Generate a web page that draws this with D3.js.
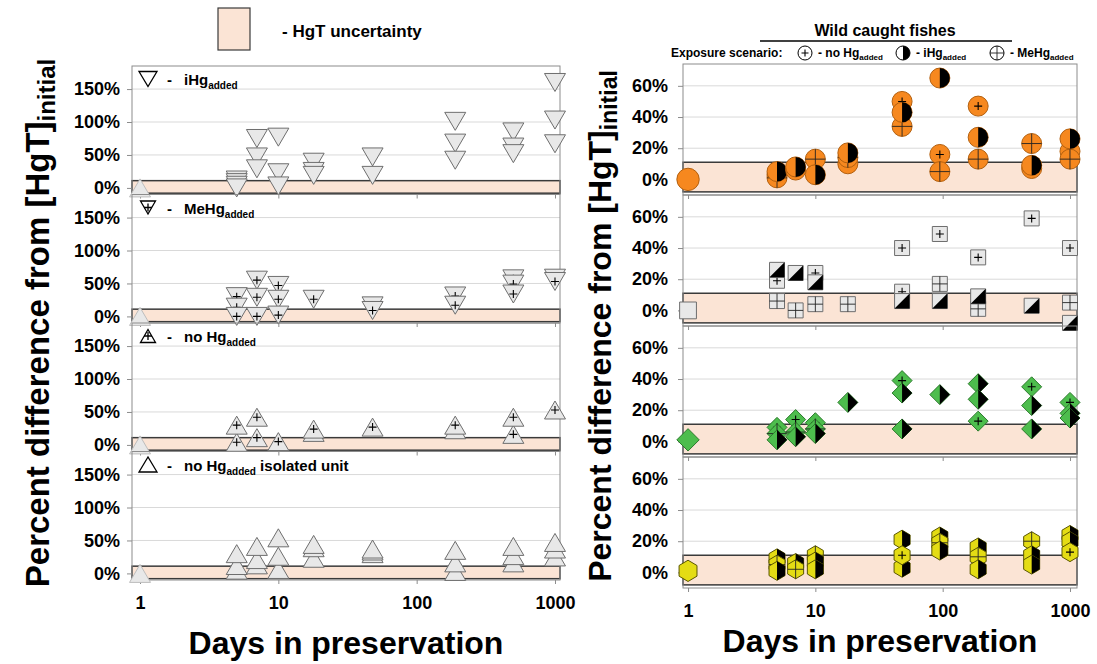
<!DOCTYPE html>
<html>
<head>
<meta charset="utf-8">
<script src="https://cdn.jsdelivr.net/npm/d3@7"></script>
<style>
  body { margin: 0; background: #fff; }
  svg text { font-family: Arial, "Liberation Sans", sans-serif; font-weight: bold; fill: #000; }
</style>
</head>
<body>
<svg id="chart" width="1097" height="664"></svg>
<script>
// ---- data ----
const dayTicks = [1, 10, 100, 1000]
const leftPctTicks = [0, 50, 100, 150]
const rightPctTicks = [0, 20, 40, 60]
const uncertainty = [-8, 11]

// left side: [day, % difference]
const startPoint = [[1, 0]]
const iHgAdded = [[5,12],[5,8],[5,4],[5,0],[7,75],[7,47],[7,29],[10,77],[10,23],[10,3],[18,39],[18,25],[18,19],[48,47],[48,19],[190,101],[190,68],[190,42],[500,85],[500,62],[500,52],[1000,160],[1000,103],[1000,67]]
const meHgAdded = [[5,30],[5,14],[5,0],[7,55],[7,29],[7,0],[10,47],[10,26],[10,2],[18,26],[48,16],[48,9],[190,31],[190,17],[500,57],[500,49],[500,34],[1000,58],[1000,53]]
const noHgAdded = [[5,30],[5,4],[7,42],[7,11],[10,5],[18,24],[18,19],[48,27],[190,30],[190,23],[500,42],[500,16],[1000,53]]
const isolatedUnit = [[5,30],[5,12],[5,5],[7,41],[7,21],[7,13],[10,54],[10,26],[10,6],[18,44],[18,39],[18,23],[48,37],[48,34],[48,30],[190,35],[190,16],[190,3],[500,41],[500,27],[500,16],[1000,47],[1000,37],[1000,25]]

// right side: [day, % difference, exposure scenario]
const orangeFish = [[1,0,"ref"],[5,3,"no"],[5,1,"me"],[5,5,"i"],[7,6,"no"],[7,8,"i"],[10,13,"me"],[10,3,"i"],[18,10,"no"],[18,14,"me"],[18,17,"i"],[48,50,"no"],[48,34,"me"],[48,43,"i"],[95,65,"i"],[95,16,"no"],[95,5,"me"],[190,47,"no"],[190,27,"i"],[190,13,"me"],[500,23,"me"],[500,7,"no"],[500,9,"i"],[1000,18,"no"],[1000,13,"me"],[1000,26,"i"]]
const greyFish = [[1,0,"ref"],[5,19,"no"],[5,26,"i"],[5,6,"me"],[7,24,"i"],[7,0,"me"],[10,24,"no"],[10,18,"i"],[10,4,"me"],[18,4,"me"],[48,40,"no"],[48,12,"no"],[48,6,"i"],[95,49,"no"],[95,17,"me"],[95,6,"i"],[190,34,"no"],[190,1,"me"],[190,9,"i"],[500,59,"no"],[500,3,"i"],[1000,40,"no"],[1000,5,"me"],[1000,-8,"i"]]
const greenFish = [[1,1,"ref"],[5,9,"no"],[5,5,"me"],[5,1,"i"],[7,14,"no"],[7,6,"me"],[7,3,"i"],[10,12,"no"],[10,8,"me"],[10,5,"i"],[18,25,"i"],[48,39,"no"],[48,31,"i"],[48,8,"i"],[95,30,"i"],[190,13,"no"],[190,37,"i"],[190,27,"i"],[500,35,"no"],[500,23,"i"],[500,8,"i"],[1000,25,"no"],[1000,18,"i"],[1000,15,"i"]]
const yellowFish = [[1,1,"ref"],[5,9,"i"],[5,5,"me"],[5,1,"i"],[7,6,"i"],[7,2,"me"],[10,11,"me"],[10,7,"i"],[10,2,"i"],[48,21,"i"],[48,3,"i"],[48,11,"no"],[95,23,"i"],[95,19,"me"],[95,14,"i"],[190,16,"i"],[190,10,"me"],[190,2,"i"],[500,20,"me"],[500,11,"i"],[500,5,"i"],[1000,24,"i"],[1000,20,"i"],[1000,13,"no"]]

// ---- drawing ----
const svg = d3.select("#chart")
const bandFill = "#fbe4d5"
const gridCol = "#d9d9d9"
const frameCol = "#8c8c8c"

function shapePath(shape, w, h) {
    const a = w / 2, b = h / 2
    if (shape == "circle") return `M${-a},0A${a},${a} 0 1 0 ${a},0A${a},${a} 0 1 0 ${-a},0Z`
    if (shape == "square") return `M${-a},${-b}H${a}V${b}H${-a}Z`
    if (shape == "diamond") return `M0,${-b}L${a},0L0,${b}L${-a},0Z`
    if (shape == "hexagon") return `M0,${-b}L${a},${-b/2}L${a},${b/2}L0,${b}L${-a},${b/2}L${-a},${-b/2}Z`
    if (shape == "triUp") return `M${-a},${b}L${a},${b}L0,${-b}Z`
    if (shape == "triDown") return `M${-a},${-b}L${a},${-b}L0,${b}Z`
}

function halfPath(shape, w, h) {
    const a = w / 2, b = h / 2
    if (shape == "circle") return `M0,${-a}A${a},${a} 0 0 1 0,${a}Z`
    if (shape == "square") return `M${a},${-b}L${a},${b}L${-a},${b}Z`
    if (shape == "diamond") return `M0,${-b}L${a},0L0,${b}Z`
    if (shape == "hexagon") return `M0,${-b}L${a},${-b/2}L${a},${b/2}L0,${b}Z`
}

function drawMarker(g, shape, kind, cx, cy, w, h, fill, stroke) {
    const m = g.append("g").attr("transform", `translate(${cx},${cy})`)
    m.append("path").attr("d", shapePath(shape, w, h))
        .attr("fill", fill).attr("stroke", stroke).attr("stroke-width", 1)
    if (kind == "i") {
        m.append("path").attr("d", halfPath(shape, w, h)).attr("fill", "#000")
    }
    if (kind == "me") {
        m.append("path").attr("d", `M${-w/2},0H${w/2}M0,${-h/2}V${h/2}`)
            .attr("stroke", "#222").attr("stroke-width", 0.9)
    }
    if (kind == "no" || kind == "plus") {
        m.append("path").attr("d", "M-4,0H4M0,-4V4")
            .attr("stroke", "#000").attr("stroke-width", 1.1)
    }
}

function panelFrame(g, x, y, x0, x1, h, pctTicks, showLabels, padY) {
    // grid
    g.selectAll(".grid").data(pctTicks).join("line")
        .attr("x1", x0).attr("x2", x1)
        .attr("y1", d => y(d)).attr("y2", d => y(d))
        .attr("stroke", gridCol)
    // uncertainty band
    g.append("rect")
        .attr("x", x0).attr("width", x1 - x0)
        .attr("y", y(uncertainty[1])).attr("height", y(uncertainty[0]) - y(uncertainty[1]))
        .attr("fill", bandFill).attr("stroke", "#3a3a3a").attr("stroke-width", 1.5)
    // frame
    g.append("rect").attr("x", x0).attr("y", 0).attr("width", x1 - x0).attr("height", h)
        .attr("fill", "none").attr("stroke", frameCol)
    // axes
    const ya = g.append("g").attr("transform", `translate(${x0},0)`)
        .call(d3.axisLeft(y).tickValues(pctTicks).tickSize(5).tickPadding(padY).tickFormat(d => d + "%"))
    ya.select(".domain").remove()
    ya.selectAll("line").attr("stroke", frameCol)
    ya.selectAll("text").style("font-size", "18px")
    const xa = g.append("g").attr("transform", `translate(0,${h})`)
        .call(d3.axisBottom(x).tickValues(dayTicks).tickSize(4).tickPadding(12)
            .tickFormat(showLabels ? d3.format("d") : () => ""))
    xa.select(".domain").remove()
    xa.selectAll("line").attr("stroke", frameCol)
    xa.selectAll("text").style("font-size", "18px")
}

// ---- left chart ----
const lx = d3.scaleLog().domain([0.875, 1087]).range([132, 560])
const lTop = 66, lH = 128.5
const ly = d3.scaleLinear().domain([-10, 185]).range([lH, 0])

const leftPanels = [
    {data: iHgAdded, shape: "triDown", kind: "", name: "iHg", sub: "added", tail: ""},
    {data: meHgAdded, shape: "triDown", kind: "plus", name: "MeHg", sub: "added", tail: ""},
    {data: noHgAdded, shape: "triUp", kind: "plus", name: "no Hg", sub: "added", tail: ""},
    {data: isolatedUnit, shape: "triUp", kind: "", name: "no Hg", sub: "added", tail: " isolated unit"}
]

leftPanels.forEach((p, i) => {
    const g = svg.append("g").attr("transform", `translate(0,${lTop + i * lH})`)
    panelFrame(g, lx, ly, 132, 560, lH, leftPctTicks, i == 3, 7)

    // panel label
    const sym = g.append("g")
    drawMarker(sym, p.shape, p.kind, 148, 13, i == 0 || i == 3 ? 18 : 15, i == 0 || i == 3 ? 15 : 13, "#fff", "#000")
    sym.selectAll("path").attr("stroke-width", 1.3)
    g.append("text").attr("x", 167).attr("y", 19).style("font-size", "15px").text("-")
    const t = g.append("text").attr("x", 184).attr("y", 19).style("font-size", "15px")
    t.append("tspan").text(p.name)
    t.append("tspan").attr("dy", 4).style("font-size", "10px").text(p.sub)
    if (p.tail) t.append("tspan").attr("dy", -4).text(p.tail)

    // day 1 reference
    startPoint.forEach(d => drawMarker(g, "triUp", "", lx(d[0]), ly(d[1]), 21, 18, "#e8e8e8", "#bdbdbd"))
    const pts = p.data.slice().sort((a, b) => p.shape == "triDown" ? b[1] - a[1] : a[1] - b[1])
    pts.forEach(d => drawMarker(g, p.shape, p.kind, lx(d[0]), ly(d[1]), 21, 18, "#e8e8e8", "#6e6e6e"))
})

// left titles
svg.append("text").attr("transform", "translate(37,323) rotate(-90)")
    .attr("text-anchor", "middle").attr("dominant-baseline", "central")
    .style("font-size", "33px")
    .call(t => {
        t.append("tspan").text("Percent difference from [HgT]")
        t.append("tspan").attr("dy", 9).style("font-size", "24px").text("initial")
    })
svg.append("text").attr("x", 346).attr("y", 654).attr("text-anchor", "middle")
    .style("font-size", "32px").text("Days in preservation")

// uncertainty legend
svg.append("rect").attr("x", 218).attr("y", 8).attr("width", 32).attr("height", 42)
    .attr("fill", bandFill).attr("stroke", "#3a3a3a").attr("stroke-width", 1.2)
svg.append("text").attr("x", 282).attr("y", 37).style("font-size", "17px").text("- HgT uncertainty")

// ---- right chart ----
const rx = d3.scaleLog().domain([0.913, 1135]).range([683, 1077])
const rTop = 64, rH = 131
const ry = d3.scaleLinear().domain([-10, 74]).range([rH, 0])

const rightPanels = [
    {data: orangeFish, shape: "circle", w: 20, h: 20, fill: "#f6881f", stroke: "#b3600f"},
    {data: greyFish, shape: "square", w: 15, h: 15, fill: "#e8e8e8", stroke: "#6e6e6e"},
    {data: greenFish, shape: "diamond", w: 20, h: 20, fill: "#4dbd4d", stroke: "#2c7a2c"},
    {data: yellowFish, shape: "hexagon", w: 16, h: 19, fill: "#e4dc14", stroke: "#5a5600"}
]

rightPanels.forEach((p, i) => {
    const g = svg.append("g").attr("transform", `translate(0,${rTop + i * rH})`)
    panelFrame(g, rx, ry, 683, 1077, rH, rightPctTicks, i == 3, 10)
    p.data.forEach(d => {
        const big = d[2] == "ref" ? 1.12 : 1
        drawMarker(g, p.shape, d[2], rx(d[0]), ry(d[1]), p.w * big, p.h * big, p.fill, p.stroke)
    })
})

svg.append("text").attr("transform", "translate(600,326) rotate(-90)")
    .attr("text-anchor", "middle").attr("dominant-baseline", "central")
    .style("font-size", "32px")
    .call(t => {
        t.append("tspan").text("Percent difference from [HgT]")
        t.append("tspan").attr("dy", 9).style("font-size", "23px").text("initial")
    })
svg.append("text").attr("x", 880).attr("y", 652).attr("text-anchor", "middle")
    .style("font-size", "32px").text("Days in preservation")

// fish legend
svg.append("text").attr("x", 885).attr("y", 36).attr("text-anchor", "middle")
    .style("font-size", "16px").text("Wild caught fishes")
svg.append("line").attr("x1", 760).attr("x2", 1012).attr("y1", 41).attr("y2", 41)
    .attr("stroke", "#000").attr("stroke-width", 1.5)
svg.append("text").attr("x", 671).attr("y", 57).style("font-size", "12px").text("Exposure scenario:")

const scenarioKeys = [
    {kind: "no", x: 805, name: "no Hg"},
    {kind: "i", x: 903, name: "iHg"},
    {kind: "me", x: 997, name: "MeHg"}
]
scenarioKeys.forEach(k => {
    const g = svg.append("g")
    drawMarker(g, "circle", k.kind, k.x, 53, 14, 14, "#fff", "#000")
    if (k.kind == "no") g.selectAll("path").filter((d, j) => j == 1).attr("d", "M-3.5,0H3.5M0,-3.5V3.5")
    const t = svg.append("text").attr("x", k.x + 13).attr("y", 57).style("font-size", "12px")
    t.append("tspan").text("-  " + k.name)
    t.append("tspan").attr("dy", 3).style("font-size", "8px").text("added")
})
</script>
</body>
</html>
